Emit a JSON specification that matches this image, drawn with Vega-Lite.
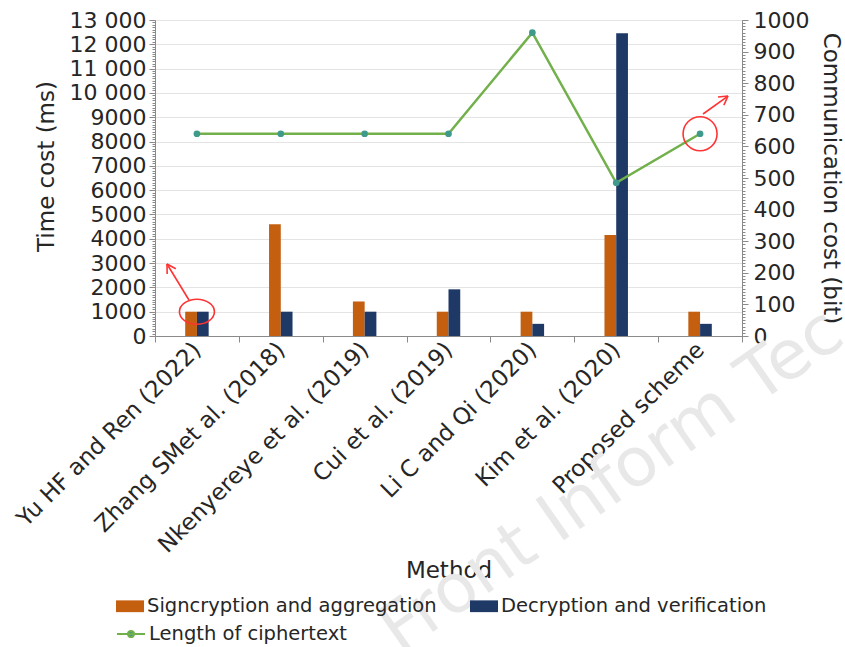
{
  "$schema": "https://vega.github.io/schema/vega-lite/v6.json",
  "width": 587,
  "height": 316,
  "autosize": {"type": "none"},
  "padding": {"left": 155, "top": 20, "right": 103, "bottom": 311},
  "background": "#ffffff",
  "config": {
    "view": {"stroke": "#a0a0a0", "strokeWidth": 1},
    "font": "DejaVu Sans",
    "axis": {
      "labelFont": "DejaVu Sans",
      "titleFont": "DejaVu Sans",
      "labelColor": "#262626",
      "titleColor": "#262626",
      "titleFontWeight": "normal",
      "domainColor": "#8a8a8a",
      "tickColor": "#8a8a8a",
      "gridColor": "#e4e4e4"
    },
    "legend": {"labelFont": "DejaVu Sans", "labelFontSize": 19.5, "labelColor": "#262626"}
  },
  "datasets": {
    "bars": [
      {"method": "Yu HF and Ren (2022)", "series": "Signcryption and aggregation", "time": 1000},
      {"method": "Yu HF and Ren (2022)", "series": "Decryption and verification", "time": 1000},
      {"method": "Zhang SMet al. (2018)", "series": "Signcryption and aggregation", "time": 4600},
      {"method": "Zhang SMet al. (2018)", "series": "Decryption and verification", "time": 1000},
      {"method": "Nkenyereye et al. (2019)", "series": "Signcryption and aggregation", "time": 1420},
      {"method": "Nkenyereye et al. (2019)", "series": "Decryption and verification", "time": 1000},
      {"method": "Cui et al. (2019)", "series": "Signcryption and aggregation", "time": 1000},
      {"method": "Cui et al. (2019)", "series": "Decryption and verification", "time": 1920},
      {"method": "Li C and Qi (2020)", "series": "Signcryption and aggregation", "time": 1000},
      {"method": "Li C and Qi (2020)", "series": "Decryption and verification", "time": 500},
      {"method": "Kim et al. (2020)", "series": "Signcryption and aggregation", "time": 4150},
      {"method": "Kim et al. (2020)", "series": "Decryption and verification", "time": 12450},
      {"method": "Proposed scheme", "series": "Signcryption and aggregation", "time": 1000},
      {"method": "Proposed scheme", "series": "Decryption and verification", "time": 500}
    ],
    "comm": [
      {"method": "Yu HF and Ren (2022)", "series": "Length of ciphertext", "bits": 640},
      {"method": "Zhang SMet al. (2018)", "series": "Length of ciphertext", "bits": 640},
      {"method": "Nkenyereye et al. (2019)", "series": "Length of ciphertext", "bits": 640},
      {"method": "Cui et al. (2019)", "series": "Length of ciphertext", "bits": 640},
      {"method": "Li C and Qi (2020)", "series": "Length of ciphertext", "bits": 960},
      {"method": "Kim et al. (2020)", "series": "Length of ciphertext", "bits": 485},
      {"method": "Proposed scheme", "series": "Length of ciphertext", "bits": 640}
    ],
    "rings": [
      {"method": "Yu HF and Ren (2022)", "axis": "time", "value": 1000},
      {"method": "Proposed scheme", "axis": "comm", "value": 640}
    ],
    "arrows": [
      {"x": 0.405, "y": 1481, "x2": 0.143, "y2": 2962},
      {"x": 0.143, "y": 2962, "x2": 0.145, "y2": 2550},
      {"x": 0.143, "y": 2962, "x2": 0.248, "y2": 2764},
      {"x": 6.535, "y": 9132, "x2": 6.833, "y2": 9872},
      {"x": 6.833, "y": 9872, "x2": 6.714, "y2": 9831},
      {"x": 6.833, "y": 9872, "x2": 6.784, "y2": 9498}
    ],
    "wm": [
      {"x": 2.922, "y": -13122, "text": "Front Inform Tec"}
    ]
  },
  "layer": [
    {
      "layer": [
        {
          "data": {"name": "wm"},
          "mark": {"type": "text", "angle": -35, "align": "left", "baseline": "alphabetic", "font": "DejaVu Sans", "fontSize": 68, "color": "#e8e8e8"},
          "encoding": {
            "x": {"field": "x", "type": "quantitative", "scale": {"domain": [0, 7], "nice": false, "zero": false}, "axis": null},
            "y": {"field": "y", "type": "quantitative", "scale": {"domain": [0, 13000], "nice": false}, "axis": null},
            "text": {"field": "text"}
          }
        },
        {
          "data": {"name": "arrows"},
          "mark": {"type": "rule", "color": "#ff3333", "strokeWidth": 1.6},
          "encoding": {
            "x": {"field": "x", "type": "quantitative"},
            "y": {"field": "y", "type": "quantitative"},
            "x2": {"field": "x2"},
            "y2": {"field": "y2"}
          }
        }
      ]
    },
    {
      "data": {"name": "bars"},
      "layer": [
        {
          "mark": {"type": "bar"},
          "encoding": {
            "x": {
              "field": "method", "type": "nominal",
              "scale": {"domain": ["Yu HF and Ren (2022)", "Zhang SMet al. (2018)", "Nkenyereye et al. (2019)", "Cui et al. (2019)", "Li C and Qi (2020)", "Kim et al. (2020)", "Proposed scheme"], "paddingInner": 0.72, "paddingOuter": 0.36},
              "axis": null
            },
            "xOffset": {
              "field": "series", "type": "nominal",
              "scale": {"domain": ["Signcryption and aggregation", "Decryption and verification"], "paddingInner": 0, "paddingOuter": 0}
            },
            "y": {
              "field": "time", "type": "quantitative",
              "scale": {"domain": [0, 13000], "nice": false},
              "axis": {
                "orient": "left", "title": "Time cost (ms)", "titleFontSize": 23,
                "titleX": -109, "titleY": 146, "titleBaseline": "middle",
                "tickCount": 130,
                "labelExpr": "datum.value % 1000 == 0 ? (datum.value >= 10000 ? format(datum.value / 1000, 'd') + ' 000' : format(datum.value, 'd')) : ''",
                "labelOverlap": false, "labelFlush": false, "labelFontSize": 22, "labelPadding": 3,
                "tickSize": {"condition": {"test": "datum.value % 1000 == 0", "value": 6}, "value": 3},
                "grid": true,
                "gridOpacity": {"condition": {"test": "datum.value % 1000 == 0", "value": 1}, "value": 0}
              }
            },
            "fill": {
              "field": "series", "type": "nominal",
              "scale": {"domain": ["Signcryption and aggregation", "Decryption and verification"], "range": ["#c55f10", "#1f3967"]},
              "legend": {
                "orient": "none", "legendX": -39, "legendY": 572, "direction": "horizontal", "columns": 2,
                "columnPadding": 33, "title": null, "padding": 0,
                "symbolType": "M-1,-0.42H1V0.42H-1Z", "symbolSize": 784, "symbolStrokeWidth": 0,
                "labelOffset": 3, "labelFontSize": 19.5, "labelLimit": 400
              }
            }
          }
        },
        {
          "data": {"name": "rings"},
          "transform": [{"filter": "datum.axis == 'time'"}],
          "mark": {"type": "point", "shape": "M-1.4,0A1.4,1,0,1,0,1.4,0A1.4,1,0,1,0,-1.4,0Z", "size": 625, "filled": false, "color": "#ff3333", "strokeWidth": 1.6, "opacity": 1},
          "encoding": {
            "x": {"field": "method", "type": "nominal"},
            "y": {"field": "value", "type": "quantitative"}
          }
        }
      ]
    },
    {
      "data": {"name": "comm"},
      "layer": [
        {
          "mark": {"type": "line", "strokeWidth": 2.5},
          "encoding": {
            "x": {
              "field": "method", "type": "nominal",
              "scale": {"domain": ["Yu HF and Ren (2022)", "Zhang SMet al. (2018)", "Nkenyereye et al. (2019)", "Cui et al. (2019)", "Li C and Qi (2020)", "Kim et al. (2020)", "Proposed scheme"], "paddingInner": 0, "paddingOuter": 0},
              "axis": {
                "orient": "bottom",
                "title": "Method", "titleFontSize": 23, "titleY": 234, "titleBaseline": "middle",
                "labelAngle": -45, "labelAlign": "right", "labelBaseline": "middle",
                "labelFontSize": 23, "labelPadding": 4, "labelLimit": 400,
                "tickSize": 6, "tickBand": "extent", "grid": false
              }
            },
            "y": {
              "field": "bits", "type": "quantitative",
              "scale": {"domain": [0, 1000], "nice": false},
              "axis": {
                "orient": "right", "title": "Communication cost (bit)", "titleFontSize": 23,
                "titleX": 88, "titleY": 158, "titleBaseline": "middle",
                "tickCount": 100,
                "labelExpr": "datum.value % 100 == 0 ? format(datum.value, 'd') : ''",
                "labelOverlap": false, "labelFlush": false, "labelFontSize": 22, "labelPadding": 5,
                "tickSize": {"condition": {"test": "datum.value % 100 == 0", "value": 6}, "value": 3},
                "grid": false
              }
            },
            "stroke": {
              "field": "series", "type": "nominal",
              "scale": {"domain": ["Length of ciphertext"], "range": ["#72b04c"]},
              "legend": {
                "orient": "none", "legendX": -39, "legendY": 599, "title": null, "padding": 0,
                "symbolType": "M-1,0H1M-0.22,0A0.22,0.22,0,1,0,0.22,0A0.22,0.22,0,1,0,-0.22,0Z",
                "symbolSize": 784, "symbolStrokeWidth": 2,
                "labelOffset": 3, "labelFontSize": 19.5, "labelLimit": 400,
                "encode": {"symbols": {"update": {"fill": {"value": "#3f9a8c"}}}}
              }
            }
          }
        },
        {
          "mark": {"type": "point", "filled": true, "color": "#3f9a8c", "size": 45, "opacity": 1},
          "encoding": {
            "x": {"field": "method", "type": "nominal"},
            "y": {"field": "bits", "type": "quantitative"}
          }
        },
        {
          "data": {"name": "rings"},
          "transform": [{"filter": "datum.axis == 'comm'"}],
          "mark": {"type": "point", "shape": "circle", "size": 1156, "filled": false, "color": "#ff3333", "strokeWidth": 1.6, "opacity": 1},
          "encoding": {
            "x": {"field": "method", "type": "nominal"},
            "y": {"field": "value", "type": "quantitative"}
          }
        }
      ]
    }
  ],
  "resolve": {"scale": {"x": "independent", "y": "independent", "fill": "independent", "stroke": "independent"}}
}
